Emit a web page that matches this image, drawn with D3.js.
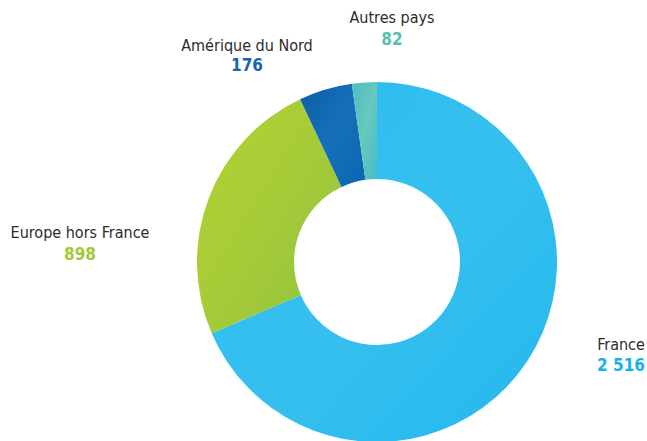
<!DOCTYPE html>
<html><head><meta charset="utf-8">
<script src="https://cdn.jsdelivr.net/npm/d3@7"></script>
<style>html,body{margin:0;padding:0;background:#fff;}svg{display:block;}</style>
</head><body>
<script>
const categories = ["France", "Europe hors France", "Amérique du Nord", "Autres pays"];
const values = [2516, 898, 176, 82];
const valueLabels = ["2 516", "898", "176", "82"];

const W = 647, H = 441;
const cx = 377, cy = 262, R = 180, r = 83;
const textColors = ["#17b1ea", "#a3c73a", "#1466b0", "#56c1ae"];
// label anchor positions (label baseline, value baseline)
const labelPos = [
  {x: 621, y: 350, vy: 371},
  {x: 80, y: 238, vy: 260},
  {x: 247, y: 51, vy: 71},
  {x: 392, y: 23, vy: 45}
];

const svg = d3.select("body").append("svg").attr("width", W).attr("height", H);
const defs = svg.append("defs");
const gradStops = [
  ["#2abbee", "#36c0ef", "#25b7ec"],
  ["#b4d132", "#a6cb38", "#8fc13e"],
  ["#0a5fa8", "#1670b9", "#0b66b0"],
  ["#4cbec4", "#68c8bd", "#47bdc5"]
];
gradStops.forEach((s, i) => {
  const g = defs.append("linearGradient").attr("id", "g" + i)
    .attr("x1", "0").attr("y1", "0").attr("x2", "1").attr("y2", "1");
  g.append("stop").attr("offset", "0").attr("stop-color", s[0]);
  g.append("stop").attr("offset", "0.5").attr("stop-color", s[1]);
  g.append("stop").attr("offset", "1").attr("stop-color", s[2]);
});

const pie = d3.pie().sort(null).value(d => d)
  .startAngle(0).endAngle(2 * Math.PI);
const arcs = pie(values);
const arc = d3.arc().innerRadius(r).outerRadius(R);

const g = svg.append("g").attr("transform", `translate(${cx},${cy})`);
g.selectAll("path").data(arcs).enter().append("path")
  .attr("d", arc)
  .attr("fill", (d, i) => `url(#g${i})`);

const lg = svg.append("g");
const font = "'DejaVu Sans Condensed', 'DejaVu Sans', sans-serif";
categories.forEach((c, i) => {
  const p = labelPos[i];
  lg.append("text").attr("x", p.x).attr("y", p.y)
    .attr("text-anchor", "middle")
    .attr("font-family", font)
    .attr("font-size", 16).attr("fill", "#2b2b2b").text(c);
  lg.append("text").attr("x", p.x).attr("y", p.vy)
    .attr("text-anchor", "middle")
    .attr("font-family", font)
    .attr("font-weight", "bold")
    .attr("font-size", 17).attr("fill", textColors[i]).text(valueLabels[i]);
});
</script>
</body></html>
